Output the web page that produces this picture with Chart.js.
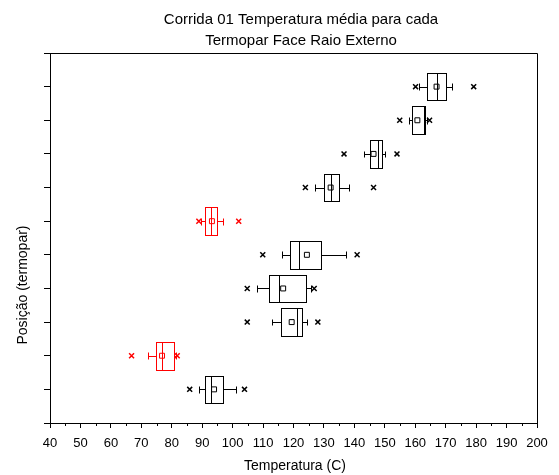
<!DOCTYPE html>
<html>
<head>
<meta charset="utf-8">
<script src="https://cdn.jsdelivr.net/npm/chart.js@4"></script>
<style>
  html, body { margin: 0; padding: 0; background: #fff; }
</style>
</head>
<body>
<canvas id="chart" width="559" height="475"></canvas>
<script>
// rows from the bottom (1) to the top (10)
const positions = [1, 2, 3, 4, 5, 6, 7, 8, 9, 10];
const q1 = [91.0, 74.9, 115.9, 112.0, 118.9, 90.9, 129.9, 145.1, 159.0, 164.0];
const medians = [93.0, 76.9, 121.0, 115.1, 121.8, 92.9, 132.2, 147.7, 162.8, 167.1];
const q3 = [97.0, 80.9, 122.9, 124.0, 129.1, 94.8, 135.1, 149.1, 163.3, 170.1];
const whiskerLo = [89.0, 72.1, 113.1, 108.0, 116.1, 89.6, 126.9, 143.0, 158.0, 161.1];
const whiskerHi = [101.1, 81.4, 124.3, 125.9, 137.1, 96.9, 138.1, 150.2, 164.0, 172.1];
const means = [93.9, 76.8, 119.4, 116.6, 124.4, 93.2, 132.2, 146.3, 160.7, 167.0];
const outliersLo = [85.9, 66.8, 104.8, 104.8, 109.9, 88.9, 123.9, 136.6, 154.9, 160.1];
const outliersHi = [103.9, 81.8, 128.0, 126.8, 140.9, 102.0, 146.3, 154.0, 164.7, 179.2];

const titleLines = ["Corrida 01 Temperatura média para cada", "Termopar Face Raio Externo"];
const xTitle = "Temperatura (C)";
const yTitle = "Posição (termopar)";

const redRows = [2, 6];
const colorOf = (p) => (redRows.includes(p) ? "#ff0000" : "#000000");
const FONT = "'Liberation Sans', Arial, sans-serif";

// boxes, medians and whiskers drawn through the chart scales
const boxPlugin = {
  id: "boxes",
  beforeDatasetsDraw(chart) {
    const { ctx, scales: { x, y } } = chart;
    const half = 0.41, cap = 0.1;
    const px = (v) => Math.round(x.getPixelForValue(v)) + 0.5;
    const py = (v) => Math.round(y.getPixelForValue(v)) + 0.5;
    ctx.save();
    ctx.lineWidth = 1;
    positions.forEach((p, i) => {
      ctx.strokeStyle = colorOf(p);
      const top = py(p + half), bot = py(p - half), mid = py(p);
      ctx.strokeRect(px(q1[i]), top, px(q3[i]) - px(q1[i]), bot - top);
      ctx.beginPath();
      ctx.moveTo(px(medians[i]), top);
      ctx.lineTo(px(medians[i]), bot);
      // whiskers
      ctx.moveTo(px(whiskerLo[i]), mid);
      ctx.lineTo(px(q1[i]), mid);
      ctx.moveTo(px(q3[i]), mid);
      ctx.lineTo(px(whiskerHi[i]), mid);
      ctx.moveTo(px(whiskerLo[i]), py(p + cap));
      ctx.lineTo(px(whiskerLo[i]), py(p - cap));
      ctx.moveTo(px(whiskerHi[i]), py(p + cap));
      ctx.lineTo(px(whiskerHi[i]), py(p - cap));
      ctx.stroke();
    });
    ctx.restore();
  },
  afterDraw(chart) {
    const { ctx, chartArea: a, scales: { x } } = chart;
    ctx.save();
    ctx.strokeStyle = "#000";
    ctx.lineWidth = 1;
    // frame top + right
    ctx.beginPath();
    ctx.moveTo(a.left, Math.round(a.top) + 0.5);
    ctx.lineTo(Math.round(a.right) + 0.5, Math.round(a.top) + 0.5);
    ctx.lineTo(Math.round(a.right) + 0.5, a.bottom);
    // minor ticks on x
    for (let v = 45; v < 200; v += 10) {
      const xx = Math.round(x.getPixelForValue(v)) + 0.5;
      ctx.moveTo(xx, a.bottom);
      ctx.lineTo(xx, a.bottom + 3);
    }
    ctx.stroke();

    ctx.fillStyle = "#000";
    ctx.font = "15px " + FONT;
    ctx.textAlign = "center";
    ctx.textBaseline = "middle";
    ctx.fillText(titleLines[0], 301, 20);
    ctx.fillText(titleLines[1], 301, 41);
    ctx.font = "14px " + FONT;
    ctx.fillText(xTitle, 295, 466);
    ctx.translate(23, 285);
    ctx.rotate(-Math.PI / 2);
    ctx.fillText(yTitle, 0, 0);
    ctx.restore();
  },
};

const meanPoints = positions.map((p, i) => ({ x: means[i], y: p }));
const outlierPoints = positions.flatMap((p, i) => [
  { x: outliersLo[i], y: p },
  { x: outliersHi[i], y: p },
]);

const ctx = document.getElementById("chart").getContext("2d");
const myChart = new Chart(ctx, {
  type: "scatter",
  data: {
    datasets: [
      {
        label: "Média",
        data: meanPoints,
        pointStyle: "rect",
        pointRadius: 3.5,
        borderWidth: 1,
        backgroundColor: "rgba(0,0,0,0)",
        borderColor: positions.map(colorOf),
      },
      {
        label: "Outliers",
        data: outlierPoints,
        pointStyle: "crossRot",
        pointRadius: 3.5,
        borderWidth: 1.5,
        borderColor: positions.flatMap((p) => [colorOf(p), colorOf(p)]),
      },
    ],
  },
  options: {
    responsive: false,
    animation: false,
    devicePixelRatio: 1,
    layout: { padding: { top: 53, right: 22, left: 0, bottom: 0 } },
    plugins: {
      legend: { display: false },
      tooltip: { enabled: false },
      title: { display: false },
    },
    scales: {
      x: {
        type: "linear",
        min: 40,
        max: 200,
        afterFit: (s) => { s.height = 52; },
        border: { display: true, color: "#000", width: 1 },
        grid: { drawOnChartArea: false, tickLength: 5, color: "#000", tickColor: "#000" },
        ticks: { stepSize: 10, padding: 8, color: "#000", font: { family: FONT, size: 13 } },
      },
      y: {
        type: "linear",
        min: 0,
        max: 11,
        afterFit: (s) => { s.width = 50; },
        border: { display: true, color: "#000", width: 1 },
        grid: { drawOnChartArea: false, tickLength: 6, color: "#000", tickColor: "#000" },
        ticks: { stepSize: 1, display: false },
      },
    },
  },
  plugins: [boxPlugin],
});
</script>
</body>
</html>
